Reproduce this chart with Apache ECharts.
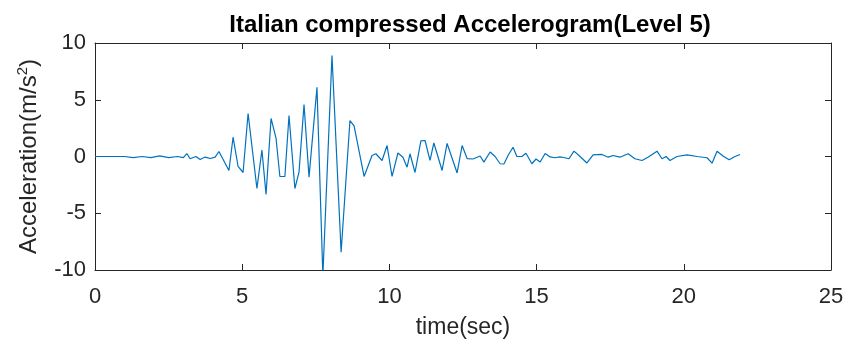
<!DOCTYPE html>
<html>
<head>
<meta charset="utf-8">
<script src="https://cdn.jsdelivr.net/npm/echarts@6/dist/echarts.min.js"></script>
<style>html,body{margin:0;padding:0;background:#fff;}#c{width:851px;height:347px;}</style>
</head>
<body>
<div id="c"></div>
<script>
const times = [0,1.0,1.3,1.6,1.9,2.2,2.5,2.8,3.0,3.12,3.23,3.43,3.57,3.74,3.91,4.08,4.21,4.55,4.69,4.86,5.03,5.20,5.50,5.67,5.81,5.98,6.15,6.28,6.45,6.59,6.79,6.93,7.10,7.27,7.54,7.74,8.05,8.36,8.66,8.80,9.14,9.41,9.54,9.75,9.92,10.09,10.29,10.46,10.60,10.70,10.87,11.07,11.21,11.38,11.51,11.79,11.96,12.30,12.47,12.64,12.84,13.08,13.21,13.42,13.59,13.76,13.89,14.03,14.20,14.33,14.50,14.64,14.84,14.98,15.12,15.29,15.46,15.62,15.79,15.96,16.10,16.27,16.44,16.71,16.92,17.22,17.43,17.60,17.83,18.11,18.34,18.58,18.78,19.09,19.26,19.40,19.53,19.77,20.11,20.45,20.79,20.96,21.13,21.33,21.54,21.74,21.91];
const accel = [0,0,-0.1,0,-0.1,0.05,-0.1,0,-0.1,0.26,-0.2,0,-0.26,-0.05,-0.18,-0.06,0.44,-1.23,1.70,-0.88,-1.41,3.79,-2.82,0.57,-3.35,3.35,1.59,-1.76,-1.76,3.61,-2.82,-1.38,4.58,-1.82,6.1,-10.5,8.9,-8.43,3.17,2.69,-1.76,0.09,0.24,-0.35,0.97,-1.76,0.31,-0.06,-0.94,0.24,-1.41,1.37,1.41,-0.35,1.19,-1.23,1.15,-1.45,0.97,-0.18,-0.22,0.04,-0.50,0.40,0,-0.64,-0.66,0.09,0.82,0,0,0.29,-0.64,-0.22,-0.48,0.26,-0.04,-0.11,-0.04,-0.11,-0.20,0.47,0.09,-0.57,0.15,0.18,-0.06,0.09,-0.06,0.24,-0.20,-0.35,-0.06,0.47,-0.20,0,-0.35,0,0.15,0,-0.11,-0.59,0.47,0.04,-0.29,0,0.18];
const xTicks = [0,5,10,15,20,25];
const yTicks = [-10,-5,0,5,10];

const chart = echarts.init(document.getElementById('c'), null, {renderer:'canvas'});
const axisColor = '#262626';
const font = 'Liberation Sans';
function axisCommon(){
  return {
    axisLine:{show:true,onZero:false,lineStyle:{color:axisColor,width:1}},
    axisTick:{show:true,inside:true,length:6,lineStyle:{color:axisColor}},
    splitLine:{show:false}
  };
}
chart.setOption({
  animation:false,
  backgroundColor:'#fff',
  title:{text:'Italian compressed Accelerogram(Level 5)',left:465,top:8,textAlign:'center',
    textStyle:{fontFamily:font,fontWeight:'bold',fontSize:24,color:'#000'}},
  grid:{left:95,right:20,top:43,bottom:77},
  xAxis:[
    Object.assign(axisCommon(),{type:'value',min:xTicks[0],max:xTicks[xTicks.length-1],interval:5,position:'bottom',
      name:'time(sec)',nameLocation:'middle',nameGap:46,
      nameTextStyle:{fontFamily:font,fontSize:23,color:axisColor},
      axisLabel:{fontFamily:font,fontSize:22,color:axisColor,margin:16}}),
    Object.assign(axisCommon(),{type:'value',min:0,max:25,interval:5,position:'top',axisLabel:{show:false}})
  ],
  yAxis:[
    Object.assign(axisCommon(),{type:'value',min:yTicks[0],max:yTicks[yTicks.length-1],interval:5,position:'left',
      name:'Acceleration(m/s{s|2})',nameLocation:'middle',nameGap:52,
      nameTextStyle:{fontFamily:font,fontSize:24,color:axisColor,rich:{s:{fontFamily:font,fontSize:15,color:axisColor,padding:[0,0,13,0]}}},
      axisLabel:{fontFamily:font,fontSize:22,color:axisColor,margin:9}}),
    Object.assign(axisCommon(),{type:'value',min:-10,max:10,interval:5,position:'right',axisLabel:{show:false}})
  ],
  series:[{
    type:'line',
    data:times.map((t,i)=>[t,accel[i]]),
    showSymbol:false,
    clip:true,
    lineStyle:{color:'#0072BD',width:1.2},
    itemStyle:{color:'#0072BD'}
  }]
});
</script>
</body>
</html>
